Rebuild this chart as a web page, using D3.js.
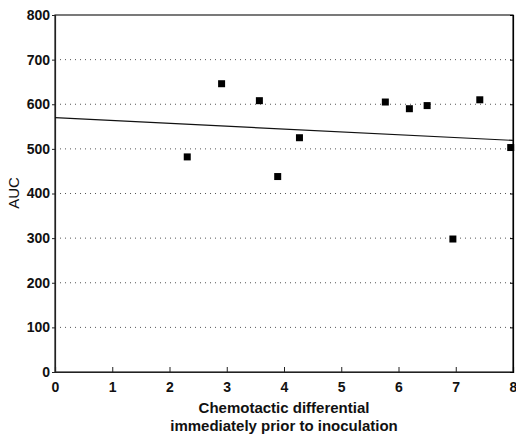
<!DOCTYPE html>
<html>
<head>
<meta charset="utf-8">
<script src="https://cdn.jsdelivr.net/npm/d3@7"></script>
<style>
  body { margin: 0; background: #fff; }
  text { font-family: "Liberation Sans", Arial, sans-serif; fill: #111; }
</style>
</head>
<body>
<script>
// Data
const chemotaxis = [2.31, 2.91, 3.57, 3.89, 4.27, 5.77, 6.19, 6.50, 6.95, 7.42, 7.96];
const auc = [482, 646, 608, 438, 525, 605, 590, 597, 298, 610, 503];
const fitX = [0, 8];
const fitY = [570, 519];
const xTicks = [0, 1, 2, 3, 4, 5, 6, 7, 8];
const yTicks = [0, 100, 200, 300, 400, 500, 600, 700, 800];
const xTitle = ['Chemotactic differential', 'immediately prior to inoculation'];

const w = 516;
const h = 435;
const margin = { top: 15, right: 3, bottom: 63, left: 55 };
const iw = w - margin.left - margin.right;
const ih = h - margin.top - margin.bottom;

const svg = d3.select('body').append('svg')
  .attr('width', w)
  .attr('height', h);

const x = d3.scaleLinear().domain([0, 8]).range([0, iw]);
const y = d3.scaleLinear().domain([0, 800]).range([ih, 0]);

const g = svg.append('g')
  .attr('transform', `translate(${margin.left},${margin.top})`);

// Dotted horizontal grid lines
g.selectAll('.grid')
  .data(yTicks.filter(d => d > 0 && d < 800))
  .enter()
  .append('line')
  .attr('x1', 0)
  .attr('x2', iw)
  .attr('y1', d => y(d))
  .attr('y2', d => y(d))
  .attr('stroke', '#555')
  .attr('stroke-width', 1)
  .attr('stroke-dasharray', '1,4');

// Frame
g.append('rect')
  .attr('width', iw)
  .attr('height', ih)
  .attr('fill', 'none')
  .attr('stroke', '#222')
  .attr('stroke-width', 1.2);

// Bottom axis, ticks inward
const xAxis = g.append('g')
  .attr('transform', `translate(0,${ih})`)
  .call(d3.axisBottom(x).tickValues(xTicks).tickSize(-5).tickPadding(10).tickFormat(d3.format('d')));

// Left axis
const yAxis = g.append('g')
  .call(d3.axisLeft(y).tickValues(yTicks).tickSize(3).tickPadding(2).tickFormat(d3.format('d')));

// Right axis, ticks inward
g.append('g')
  .attr('transform', `translate(${iw},0)`)
  .call(d3.axisRight(y).tickValues(yTicks).tickSize(-3).tickFormat(''));

[xAxis, yAxis].forEach(a => {
  a.select('.domain').attr('stroke', '#222');
  a.selectAll('.tick line').attr('stroke', '#222');
  a.selectAll('.tick text')
    .style('font-size', '14px')
    .style('font-weight', 'bold')
    .attr('fill', '#111');
});
g.selectAll('.domain').attr('stroke-width', 1.2);

// Regression line
const line = d3.line()
  .x(d => x(d[0]))
  .y(d => y(d[1]));
g.append('path')
  .datum(fitX.map((d, i) => [d, fitY[i]]))
  .attr('d', line)
  .attr('fill', 'none')
  .attr('stroke', '#111')
  .attr('stroke-width', 1.2);

// Square markers
const s = 7;
g.selectAll('.pt')
  .data(chemotaxis.map((d, i) => [d, auc[i]]))
  .enter()
  .append('rect')
  .attr('x', d => x(d[0]) - s / 2)
  .attr('y', d => y(d[1]) - s / 2)
  .attr('width', s)
  .attr('height', s)
  .attr('fill', '#000');

// Axis titles
svg.append('text')
  .attr('transform', `translate(19,193) rotate(-90)`)
  .attr('text-anchor', 'middle')
  .style('font-size', '15px')
  .text('AUC');

svg.selectAll('.xtitle')
  .data(xTitle)
  .enter()
  .append('text')
  .attr('class', 'xtitle')
  .attr('x', margin.left + x(4))
  .attr('y', (d, i) => 413 + i * 18)
  .attr('text-anchor', 'middle')
  .style('font-size', '15px')
  .style('font-weight', 'bold')
  .text(d => d);
</script>
</body>
</html>
